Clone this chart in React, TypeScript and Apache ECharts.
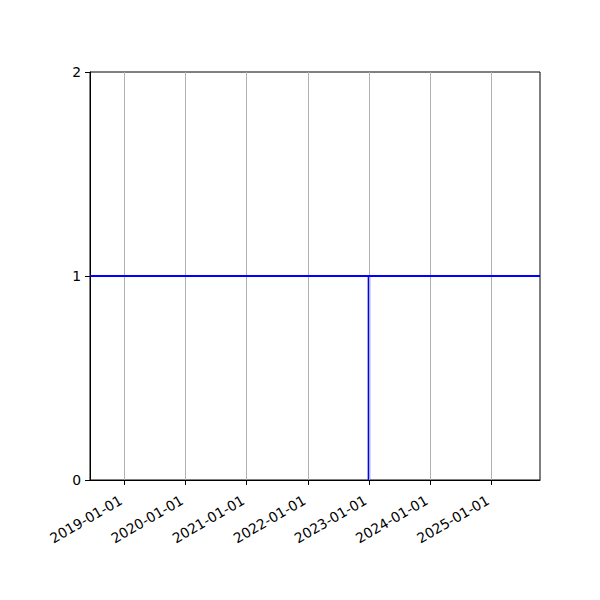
import { useEffect, useRef } from "react";
import * as echarts from "echarts";

// x range and tick dates (UTC)
const xStart = "2018-06-10";
const xEnd = "2025-10-19";
const tickDates = [
  "2019-01-01",
  "2020-01-01",
  "2021-01-01",
  "2022-01-01",
  "2023-01-01",
  "2024-01-01",
  "2025-01-01",
];
const yTicks = [0, 1, 2];

// the plotted data: a level line and a single vertical drop
const levelValue = 1;
const dropDates = ["2023-01-01", "2023-01-01"];
const dropValues = [0, 1];

const ts = (d: string) => Date.parse(d + "T00:00:00Z");
const fmt = (v: number) => new Date(v).toISOString().slice(0, 10);

export default function App() {
  const ref = useRef<HTMLDivElement | null>(null);

  useEffect(() => {
    if (!ref.current) return;
    const chart = echarts.init(ref.current, undefined, { renderer: "svg" });
    const font = "DejaVu Sans";
    const tickValues = tickDates.map(ts);

    chart.setOption({
      animation: false,
      backgroundColor: "#ffffff",
      textStyle: { fontFamily: font },
      grid: {
        left: 90,
        right: 60,
        top: 72,
        bottom: 120,
        show: true,
        borderColor: "#000000",
        borderWidth: 1,
        backgroundColor: "transparent",
      },
      xAxis: {
        // timestamps on a value axis so the ticks can sit on Jan 1st
        type: "value",
        min: ts(xStart),
        max: ts(xEnd),
        axisLine: { show: true, onZero: false, lineStyle: { color: "#000", width: 1 } },
        axisTick: {
          show: true,
          length: 5,
          customValues: tickValues,
          lineStyle: { color: "#000", width: 1 },
        },
        axisLabel: {
          customValues: tickValues,
          rotate: 30,
          margin: 17,
          padding: [0, 4, 0, 0],
          color: "#000",
          fontSize: 13.9,
          fontFamily: font,
          formatter: (v: number) => fmt(v),
        },
        splitLine: { show: false },
      },
      yAxis: {
        type: "value",
        min: yTicks[0],
        max: yTicks[yTicks.length - 1],
        interval: 1,
        axisLine: { show: true, lineStyle: { color: "#000", width: 1 } },
        axisTick: { show: true, length: 5, lineStyle: { color: "#000", width: 1 } },
        axisLabel: { color: "#000", fontSize: 13.9, fontFamily: font, margin: 9 },
        splitLine: { show: false },
      },
      series: [
        {
          type: "line",
          data: [],
          silent: true,
          markLine: {
            silent: true,
            symbol: "none",
            label: { show: false },
            lineStyle: { color: "#b0b0b0", width: 1, type: "solid" },
            data: tickValues.map((v) => ({ xAxis: v })),
          },
        },
        {
          type: "line",
          data: dropDates.map((d, i) => [ts(d), dropValues[i]]),
          showSymbol: false,
          silent: true,
          lineStyle: { color: "#0000ff", width: 2.5 },
          z: 3,
          markLine: {
            silent: true,
            symbol: "none",
            label: { show: false },
            lineStyle: { color: "#0000ff", width: 2, type: "solid" },
            data: [{ yAxis: levelValue }],
          },
        },
      ],
    });

    return () => chart.dispose();
  }, []);

  return (
    <div
      ref={ref}
      style={{ position: "fixed", left: 0, top: 0, width: 600, height: 600, background: "#fff" }}
    />
  );
}
